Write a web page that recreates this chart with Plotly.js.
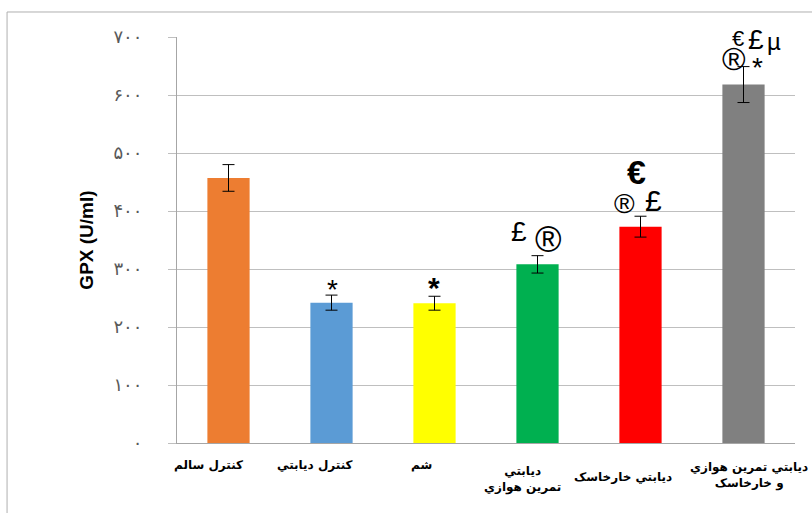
<!DOCTYPE html>
<html>
<head>
<meta charset="utf-8">
<script src="https://cdn.plot.ly/plotly-3.0.1.min.js"></script>
<style>html,body{margin:0;padding:0;background:#fff;}#chart{width:812px;height:513px;}</style>
</head>
<body>
<div id="chart"></div>
<script>
// ---- data ----
var categories = ["کنترل سالم", "کنترل ديابتي", "شم", "ديابتي<br>تمرين هوازي", "ديابتي خارخاسک", "ديابتي تمرين هوازي<br>و خارخاسک"];
var gpxMean = [457, 242, 241, 308, 373, 618];
var gpxErr = [23, 13, 12, 15, 18, 31];
var sigSymbols = [[], ["*"], ["*"], ["£", "®"], ["€", "®", "£"], ["€", "£", "µ", "®", "*"]];
var tickValues = [0, 100, 200, 300, 400, 500, 600, 700];
var tickLabels = ["۰", "۱۰۰", "۲۰۰", "۳۰۰", "۴۰۰", "۵۰۰", "۶۰۰", "۷۰۰"];
var yTitle = "GPX (U/ml)";

// ---- styles ----
var barColors = ["#ED7D31", "#5B9BD5", "#FFFF00", "#00B050", "#FF0000", "#808080"];
// per-symbol placement: [dx px, yshift px (up), font size, bold]
var symStyle = [
  [],
  [[1, 6, 28, 0]],
  [[-1, 9, 30, 1]],
  [[-19, 24, 28, 0], [11, 16, 36, 0]],
  [[-4, 44, 34, 1], [-16, 13, 28, 0], [13, 16, 30, 0]],
  [[-6, 28, 22, 0], [12, 27, 28, 0], [30, 25, 24, 0], [-10, 8, 32, 0], [14, -1, 28, 0]]
];
var labelDy = [0, 0, 0, 6, 12, 2];
var labelDx = [-20, -17, -13, -15, -18, 5];

var annotations = [];
categories.forEach(function (c, i) {
  annotations.push({
    x: c, y: 0, xref: "x", yref: "y", text: "<b>" + c + "</b>", showarrow: false,
    yanchor: "top", xanchor: "center", yshift: -13 - labelDy[i], xshift: labelDx[i],
    font: {family: "DejaVu Sans", size: 12, color: "#000"}, align: "center"
  });
  sigSymbols[i].forEach(function (s, k) {
    var st = symStyle[i][k];
    annotations.push({
      x: c, y: gpxMean[i] + gpxErr[i], xref: "x", yref: "y",
      text: st[3] ? "<b>" + s + "</b>" : s, showarrow: false,
      xanchor: "center", yanchor: "middle", xshift: st[0], yshift: st[1],
      font: {family: "Liberation Sans", size: st[2], color: "#000"}
    });
  });
});

var trace = {
  type: "bar",
  x: categories,
  y: gpxMean,
  marker: {color: barColors},
  width: 0.41,
  error_y: {type: "data", array: gpxErr, visible: true, color: "#000", thickness: 1, width: 6},
  hoverinfo: "none"
};

var layout = {
  width: 812, height: 513,
  margin: {l: 177, r: 17, t: 37, b: 70},
  paper_bgcolor: "#fff", plot_bgcolor: "#fff",
  showlegend: false,
  xaxis: {
    type: "category", range: [-0.5, 5.5], showticklabels: false, showgrid: false, zeroline: false,
    showline: true, linecolor: "#A6A6A6", linewidth: 1, ticks: ""
  },
  yaxis: {
    range: [0, 700], tickvals: tickValues, ticktext: tickLabels,
    showgrid: true, gridcolor: "#BFBFBF", gridwidth: 1, zeroline: false,
    showline: true, linecolor: "#A6A6A6", linewidth: 1,
    ticks: "outside", ticklen: 8, tickcolor: "#BFBFBF",
    ticklabelstandoff: 22,
    tickfont: {family: "DejaVu Sans", size: 18, color: "#595959"},
    title: {text: "<b>" + yTitle + "</b>", font: {family: "Liberation Sans", size: 19, color: "#000"}, standoff: 14}
  },
  annotations: annotations,
  shapes: [{
    type: "rect", xref: "paper", yref: "paper",
    x0: -0.275, x1: 1.04, y0: -0.2, y1: 1.0616,
    line: {color: "#B0B0B0", width: 1}, layer: "below"
  }]
};

Plotly.newPlot("chart", [trace], layout, {displayModeBar: false, staticPlot: true});
</script>
</body>
</html>
